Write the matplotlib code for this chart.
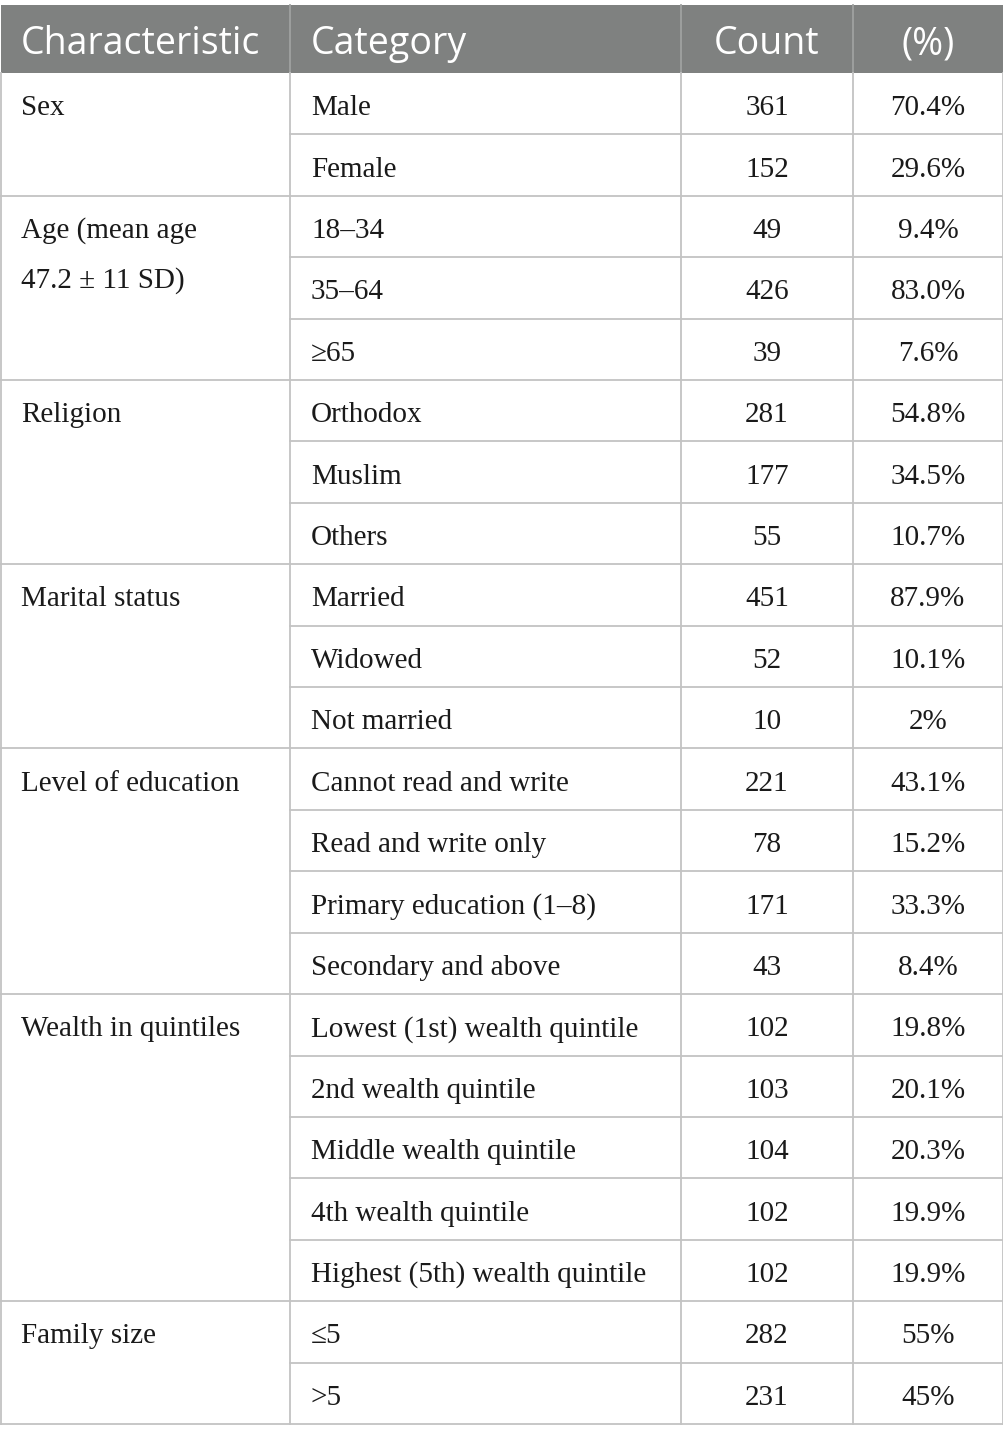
import matplotlib.pyplot as plt

# table content
groups = ['Sex', 'Age (mean age\n47.2 ± 11 SD)', 'Religion', 'Marital status',
          'Level of education', 'Wealth in quintiles', 'Family size']
categories = [
    ['Male', 'Female'],
    ['18–34', '35–64', '≥65'],
    ['Orthodox', 'Muslim', 'Others'],
    ['Married', 'Widowed', 'Not married'],
    ['Cannot read and write', 'Read and write only', 'Primary education (1–8)',
     'Secondary and above'],
    ['Lowest (1st) wealth quintile', '2nd wealth quintile', 'Middle wealth quintile',
     '4th wealth quintile', 'Highest (5th) wealth quintile'],
    ['≤5', '>5'],
]
counts = [
    [361, 152],
    [49, 426, 39],
    [281, 177, 55],
    [451, 52, 10],
    [221, 78, 171, 43],
    [102, 103, 104, 102, 102],
    [282, 231],
]
percents = [
    ['70.4%', '29.6%'],
    ['9.4%', '83.0%', '7.6%'],
    ['54.8%', '34.5%', '10.7%'],
    ['87.9%', '10.1%', '2%'],
    ['43.1%', '15.2%', '33.3%', '8.4%'],
    ['19.8%', '20.1%', '20.3%', '19.9%', '19.9%'],
    ['55%', '45%'],
]
headers = ['Characteristic', 'Category', 'Count', '(%)']

W, H = 1004, 1440
fig = plt.figure(figsize=(W / 100, H / 100), dpi=100)
ax = fig.add_axes([0, 0, 1, 1])
ax.set_xlim(0, W)
ax.set_ylim(H, 0)
ax.axis('off')

left, right = 1, 1003
cols = [left, 290, 681, 853, right]
top, head_bot, bottom = 5, 73, 1424
n_rows = sum(len(c) for c in categories)
rh = (bottom - head_bot) / n_rows
grid = '#c3c3c3'
lw = 1.3
txt = '#1a1a1a'

serif = ['Liberation Serif', 'DejaVu Serif']
sans = ['Open Sans', 'DejaVu Sans']

# header
ax.add_patch(plt.Rectangle((left, top), right - left, head_bot - top,
                           facecolor='#7f8180', edgecolor='none'))
hy = (top + head_bot) / 2 + 5
hfs = 27
ax.text(21, hy, headers[0], color='white', fontsize=hfs, family=sans, va='center')
ax.text(311, hy, headers[1], color='white', fontsize=hfs, family=sans, va='center')
ax.text((cols[2] + cols[3]) / 2, hy, headers[2], color='white', fontsize=hfs,
        family=sans, va='center', ha='center')
ax.text((cols[3] + cols[4]) / 2, hy, headers[3], color='white', fontsize=hfs,
        family=sans, va='center', ha='center')
for x in cols[1:4]:
    ax.plot([x, x], [top, head_bot], color='#a0a2a1', lw=lw)

fs = 21
y = head_bot
for g, cats, cnts, pcts in zip(groups, categories, counts, percents):
    g_top = y
    lines = g.split('\n')
    for k, line in enumerate(lines):
        ax.text(21, g_top + rh / 2 + 4.5 + k * 50, line, fontsize=fs, family=serif,
                va='center', color=txt)
    for i, (c, n, p) in enumerate(zip(cats, cnts, pcts)):
        cy = y + rh / 2 + 4.5
        ax.text(311, cy, c, fontsize=fs, family=serif, va='center', color=txt)
        ax.text((cols[2] + cols[3]) / 2, cy, str(n), fontsize=fs, family=serif,
                va='center', ha='center', color=txt)
        ax.text((cols[3] + cols[4]) / 2, cy, p, fontsize=fs, family=serif,
                va='center', ha='center', color=txt)
        y += rh
        if i < len(cats) - 1:
            ax.plot([cols[1], right], [y, y], color=grid, lw=lw)
    ax.plot([left, right], [y, y], color=grid, lw=lw)

# vertical lines in body
for x in cols:
    ax.plot([x, x], [head_bot, bottom], color=grid, lw=lw)

fig.savefig('out.png', dpi=100, facecolor='white')
